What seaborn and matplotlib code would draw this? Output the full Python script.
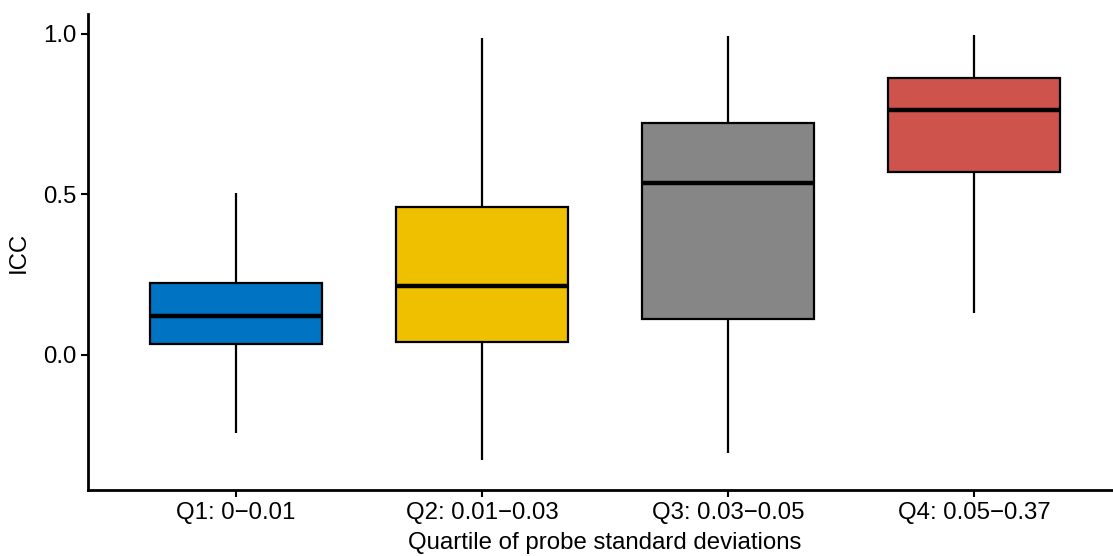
"""
ICC by quartile of probe standard deviation - boxplot recreation
"""
import pandas as pd
import numpy as np
import matplotlib
matplotlib.use("Agg")
import matplotlib.pyplot as plt
import seaborn as sns

# Values (five-number summary per group)
groups = ["Q1: 0\u22120.01", "Q2: 0.01\u22120.03", "Q3: 0.03\u22120.05", "Q4: 0.05\u22120.37"]
whisker_low = [-0.243, -0.327, -0.305, 0.131]
box_low = [0.034, 0.040, 0.112, 0.570]
medians = [0.121, 0.215, 0.536, 0.763]
box_high = [0.224, 0.461, 0.723, 0.863]
whisker_high = [0.505, 0.988, 0.994, 0.997]
colors = ["#0073C2", "#EFC000", "#868686", "#CD534C"]

# five points per group -> quartiles land exactly on the summary values
rows = []
for i, g in enumerate(groups):
    for v in [whisker_low[i], box_low[i], medians[i], box_high[i], whisker_high[i]]:
        rows.append({"group": g, "ICC": v})
df = pd.DataFrame(rows)

sns.set_style("ticks")
plt.rcParams["font.family"] = ["Liberation Sans", "DejaVu Sans"]

fig = plt.figure(figsize=(11.13, 5.56), dpi=100)
ax = fig.add_axes([88.4 / 1113, 66 / 556, (1121.6 - 88.4) / 1113, (490 - 14) / 556])

sns.boxplot(data=df, x="group", y="ICC", hue="group", palette=colors, legend=False,
            order=groups, whis=(0, 100), width=0.7, showcaps=False, fliersize=0,
            saturation=1, linewidth=1.6, linecolor="black",
            medianprops=dict(linewidth=3.2, color="black"),
            boxprops=dict(linewidth=1.6, edgecolor="black"),
            whiskerprops=dict(linewidth=1.6, color="black"),
            ax=ax)

ax.set_xlim(-0.6, 3.6)
ax.set_ylim(-0.4206, 1.062)
ax.set_yticks([0.0, 0.5, 1.0])
ax.set_yticklabels(["0.0", "0.5", "1.0"])
ax.set_xlabel("Quartile of probe standard deviations", fontsize=17.3, color="black", labelpad=6)
ax.set_ylabel("ICC", fontsize=17.3, color="black", labelpad=10)
ax.tick_params(axis="both", labelsize=17.3, length=5, width=1.5, color="black", labelcolor="black")
for s in ["top", "right"]:
    ax.spines[s].set_visible(False)
for s in ["left", "bottom"]:
    ax.spines[s].set_linewidth(2)
    ax.spines[s].set_color("black")

fig.savefig("out.png", dpi=100)
